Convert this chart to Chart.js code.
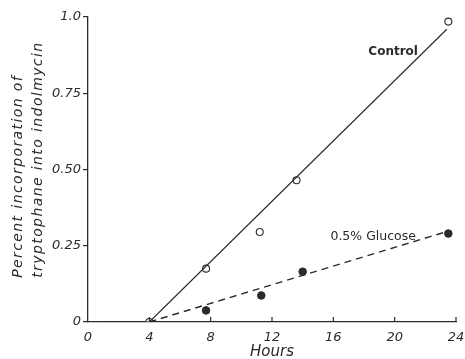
<!DOCTYPE html>
<html>
<head>
<meta charset="utf-8">
<script src="https://cdn.jsdelivr.net/npm/chart.js@4.4.1/dist/chart.umd.min.js"></script>
<style>
  html, body { margin: 0; padding: 0; background: #fff; }
  #wrap { width: 465px; height: 359px; }
</style>
</head>
<body>
<div id="wrap"><canvas id="myChart" width="465" height="359"></canvas></div>
<script>
// measured points (hours, percent incorporation)
const controlHours = [4, 7.7, 11.2, 13.6, 23.5];
const controlValues = [0, 0.175, 0.295, 0.465, 0.985];
const glucoseHours = [7.7, 11.3, 14.0, 23.5];
const glucoseValues = [0.038, 0.087, 0.165, 0.29];

// drawn lines through the points
const controlLineHours = [4, 23.4];
const controlLineValues = [0, 0.96];
const glucoseLineHours = [4, 23.5];
const glucoseLineValues = [0, 0.298];
const baseHours = [0.9, 4];
const baseValues = [0, 0];

const xTicks = [0, 4, 8, 12, 16, 20, 24];
const yTicks = [0, 0.25, 0.5, 0.75, 1.0];
const yTickLabels = ['0', '0.25', '0.50', '0.75', '1.0'];
const yTitleLines = ['Percent incorporation of', 'tryptophane into indolmycin'];

const ink = '#2b2b2b';
const pts = (xs, ys) => xs.map((x, i) => ({ x: x, y: ys[i] }));

// inward ticks on the x axis, the y title (spaced lettering) and the curve labels
const extras = {
    id: 'extras',
    afterDraw(chart) {
        const ctx = chart.ctx;
        const xs = chart.scales.x, ys = chart.scales.y;
        ctx.save();
        ctx.strokeStyle = ink;
        ctx.lineWidth = 1.2;
        xTicks.forEach(t => {
            if (t === 0) return;
            const px = xs.getPixelForValue(t);
            ctx.beginPath();
            ctx.moveTo(px, ys.bottom);
            ctx.lineTo(px, ys.bottom - 5);
            ctx.stroke();
        });
        ctx.fillStyle = ink;
        ctx.textBaseline = 'middle';

        // title lines start together near the bottom, like the original lettering
        ctx.save();
        ctx.font = 'italic 14px "DejaVu Sans"';
        ctx.letterSpacing = '1.4px';
        ctx.textAlign = 'left';
        ctx.translate(0, ys.getPixelForValue(0.145));
        ctx.rotate(-Math.PI / 2);
        ctx.fillText(yTitleLines[0], 0, 18);
        ctx.fillText(yTitleLines[1], 0, 38);
        ctx.restore();

        ctx.textAlign = 'center';
        ctx.font = 'bold 12px "DejaVu Sans"';
        ctx.fillText('Control', xs.getPixelForValue(19.9), ys.getPixelForValue(0.885));
        ctx.font = '12.5px "DejaVu Sans"';
        ctx.fillText('0.5% Glucose', xs.getPixelForValue(18.6), ys.getPixelForValue(0.28));
        ctx.restore();
    }
};

new Chart(document.getElementById('myChart'), {
    type: 'scatter',
    data: {
        datasets: [
            {
                data: pts(controlLineHours, controlLineValues),
                showLine: true, borderColor: ink, borderWidth: 1.2,
                pointRadius: 0
            },
            {
                data: pts(glucoseLineHours, glucoseLineValues),
                showLine: true, borderColor: ink, borderWidth: 1.4,
                borderDash: [7, 5], pointRadius: 0
            },
            {
                data: pts(baseHours, baseValues),
                showLine: true, borderColor: ink, borderWidth: 1.2,
                borderDash: [14, 4], pointRadius: 0
            },
            {
                data: pts(controlHours, controlValues),
                pointRadius: 3.5, pointBackgroundColor: '#fff',
                pointBorderColor: ink, pointBorderWidth: 1.1
            },
            {
                data: pts(glucoseHours, glucoseValues),
                pointRadius: 3.8, pointBackgroundColor: ink,
                pointBorderColor: ink, pointBorderWidth: 1
            }
        ]
    },
    options: {
        responsive: false,
        animation: false,
        layout: { padding: { left: 0, right: 9, top: 17, bottom: 0 } },
        plugins: { legend: { display: false }, tooltip: { enabled: false } },
        scales: {
            x: {
                type: 'linear', min: 0, max: 24,
                afterBuildTicks: s => { s.ticks = xTicks.map(v => ({ value: v })); },
                afterFit: s => { s.height = 37; s.paddingLeft = 0; s.paddingRight = 0; },
                border: { color: ink, width: 1.3 },
                grid: { display: false, drawTicks: false },
                ticks: {
                    color: ink, padding: 8, maxRotation: 0,
                    font: { family: 'DejaVu Sans', size: 13, style: 'italic' }
                },
                title: {
                    display: true, text: 'Hours', color: ink, padding: 0,
                    font: { family: 'DejaVu Sans', size: 15, style: 'italic', lineHeight: 0.9 }
                }
            },
            y: {
                type: 'linear', min: 0, max: 1.0,
                afterBuildTicks: s => { s.ticks = yTicks.map(v => ({ value: v })); },
                afterFit: s => { s.width = 88; s.paddingTop = 0; s.paddingBottom = 0; },
                border: { color: ink, width: 1.3 },
                grid: { drawOnChartArea: false, drawTicks: true, tickLength: 5, color: ink, lineWidth: 1.2 },
                ticks: {
                    color: ink, padding: 2,
                    callback: (v, i) => yTickLabels[i],
                    font: { family: 'DejaVu Sans', size: 13, style: 'italic' }
                },
                title: { display: false }
            }
        }
    },
    plugins: [extras]
});
</script>
</body>
</html>
